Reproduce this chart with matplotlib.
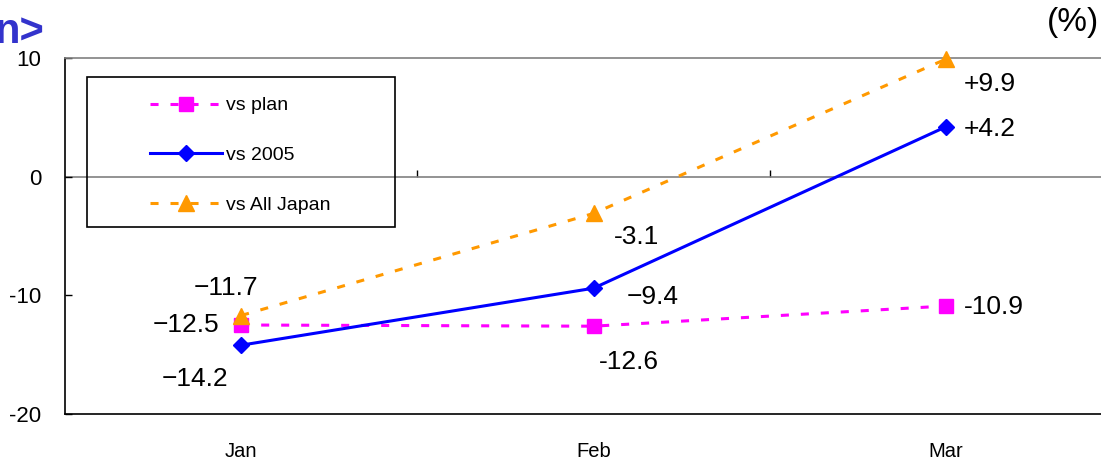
import matplotlib.pyplot as plt
from matplotlib.patches import Rectangle

plt.rcParams['font.family'] = ['Liberation Sans', 'DejaVu Sans']
plt.rcParams['lines.scale_dashes'] = False
plt.rcParams['axes.unicode_minus'] = False

months = ['Jan', 'Feb', 'Mar']
vs_plan = [-12.5, -12.6, -10.9]
vs_2005 = [-14.2, -9.4, 4.2]
vs_all_japan = [-11.7, -3.1, 9.9]

plan_labels = ['\u221212.5', '-12.6', '-10.9']
y2005_labels = ['\u221214.2', '\u22129.4', '+4.2']
japan_labels = ['\u221211.7', '-3.1', '+9.9']

# label offsets in pixels from the point
plan_off = [(-55, 0), (35, -36), (48, -1)]
y2005_off = [(-46, -34), (59, -9), (44, -2)]
japan_off = [(-15, 28), (43, -24), (44, -25)]

fig = plt.figure(figsize=(11.01, 4.59), dpi=100)
ax = fig.add_axes([65 / 1101, 45 / 459, 1057 / 1101, 356 / 459])

x = [i + 0.5 for i in range(len(months))]
dash = (5.8, 8.6)

l1, = ax.plot(x, vs_plan, color='#FF00FF', lw=2.2, dashes=dash,
              marker='s', ms=10, label='vs plan', clip_on=False, zorder=4)
l2, = ax.plot(x, vs_2005, color='#0000FF', lw=2.2,
              marker='D', ms=8.5, label='vs 2005', clip_on=False, zorder=4)
l3, = ax.plot(x, vs_all_japan, color='#FF9900', lw=2.2, dashes=dash,
              marker='^', ms=11, label='vs All Japan', clip_on=False, zorder=4)

for vals, labs, offs in [(vs_plan, plan_labels, plan_off),
                         (vs_2005, y2005_labels, y2005_off),
                         (vs_all_japan, japan_labels, japan_off)]:
    for xi, v, t, o in zip(x, vals, labs, offs):
        ax.annotate(t, (xi, v), xytext=o, textcoords='offset pixels',
                    ha='center', va='center', fontsize=19)

ax.set_xlim(0, 3)
ax.set_ylim(-20, 10)
ax.set_yticks([-20, -10, 0, 10])
ax.tick_params(axis='y', direction='in', length=5, width=1, pad=17, labelsize=16)
ax.set_xticks(x)
ax.set_xticklabels(months)
ax.tick_params(axis='x', length=0, pad=20, labelsize=14.5)

for s in ['left', 'bottom']:
    ax.spines[s].set_color('black')
    ax.spines[s].set_linewidth(1.2)
ax.spines['top'].set_color('#808080')
ax.spines['top'].set_linewidth(1.2)
ax.spines['right'].set_visible(False)

# category axis crossing at zero
ax.axhline(0, color='#808080', lw=1.2, zorder=1)
sec = ax.secondary_xaxis(2 / 3)
sec.set_xticks([1, 2])
sec.set_xticklabels([])
sec.tick_params(direction='out', length=5, width=1, color='black')
for s in sec.spines.values():
    s.set_visible(False)

ax.add_patch(Rectangle((22 / 1057, 187 / 356), 308 / 1057, 150 / 356,
                       transform=ax.transAxes, fill=False, ec='black', lw=1.2,
                       zorder=5))
ax.legend(handles=[l1, l2, l3], loc='upper left',
          bbox_to_anchor=(75 / 1057, 327 / 356), frameon=False, borderpad=0,
          handlelength=3.7, handletextpad=0.2, labelspacing=1.65, fontsize=14)

fig.text(44 / 1101, 1 - 43 / 459, 'n>', ha='right', va='baseline',
         fontsize=30, fontweight='bold', color='#3333CC')
fig.text(1073 / 1101, 1 - 22 / 459, '(%)', ha='center', va='center', fontsize=24)

fig.savefig('out.png', dpi=100)
